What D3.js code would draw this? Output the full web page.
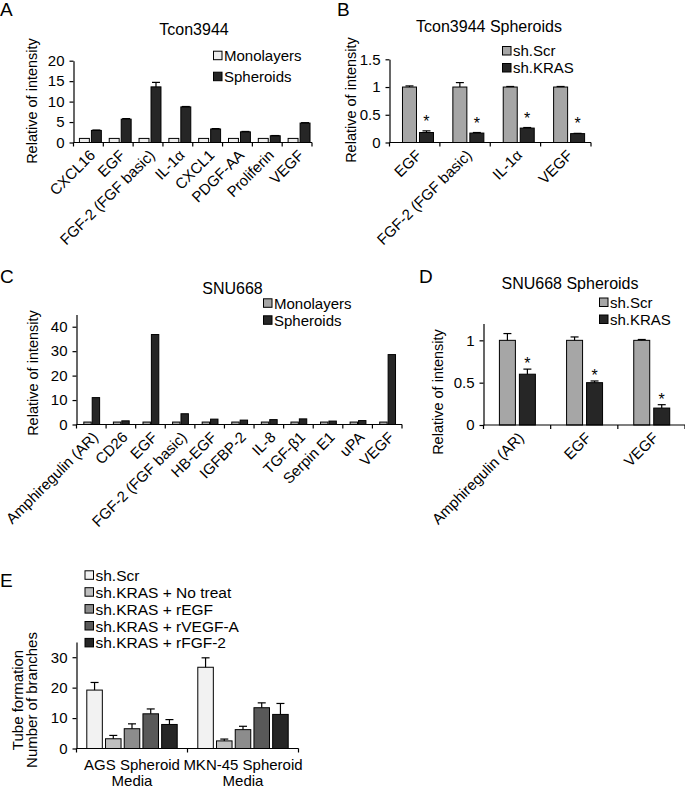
<!DOCTYPE html>
<html><head><meta charset="utf-8">
<script src="https://cdn.jsdelivr.net/npm/d3@7"></script>
<style>
body{margin:0;background:#fff}
text{font-family:"Liberation Sans",Arial,sans-serif;fill:#000}
</style>
</head><body>
<svg id="chart" width="685" height="790"></svg>
<script>
// ---------- DATA ----------
const aCategories = ["CXCL16","EGF","FGF-2 (FGF basic)","IL-1α","CXCL1","PDGF-AA","Proliferin","VEGF"];
const aSeries = ["Monolayers","Spheroids"];
const aMono = [1,1,1,1,1,1,1,1];
const aMonoErr = [0,0,0,0,0,0,0,0];
const aSph = [2.95,5.7,13.6,8.7,3.3,2.6,1.65,4.75];
const aSphErr = [0.1,0.15,1.1,0.1,0.1,0.1,0.05,0.1];
const aTicks = [0,5,10,15,20];

const bCategories = ["EGF","FGF-2 (FGF basic)","IL-1α","VEGF"];
const bSeries = ["sh.Scr","sh.KRAS"];
const bScr = [1,1,1,1];
const bScrErr = [0.02,0.08,0.01,0.01];
const bKras = [0.18,0.17,0.26,0.16];
const bKrasErr = [0.03,0.01,0.01,0.005];
const bTicks = [0,0.5,1,1.5];

const cCategories = ["Amphiregulin (AR)","CD26","EGF","FGF-2 (FGF basic)","HB-EGF","IGFBP-2","IL-8","TGF-β1","Serpin E1","uPA","VEGF"];
const cSeries = ["Monolayers","Spheroids"];
const cMono = [1,1,1,1,1,1,1,1,1,1,1];
const cSph = [11.0,1.5,36.8,4.4,2.2,1.8,2.0,2.3,1.4,1.6,28.6];
const cTicks = [0,10,20,30,40];

const dCategories = ["Amphiregulin (AR)","EGF","VEGF"];
const dSeries = ["sh.Scr","sh.KRAS"];
const dScr = [1,1,1];
const dScrErr = [0.08,0.04,0.01];
const dKras = [0.6,0.5,0.2];
const dKrasErr = [0.06,0.02,0.04];
const dTicks = [0,0.5,1];

const eCategories = ["AGS Spheroid|Media","MKN-45 Spheroid|Media"];
const eSeries = ["sh.Scr","sh.KRAS + No treat","sh.KRAS + rEGF","sh.KRAS + rVEGF-A","sh.KRAS + rFGF-2"];
const eAGS = [19.2,3.2,6.5,11.4,7.9];
const eAGSErr = [2.5,1.1,1.6,1.6,1.6];
const eMKN = [26.7,2.5,6.2,13.4,11.2];
const eMKNErr = [3.1,0.6,1.1,1.6,3.6];
const eTicks = [0,10,20,30];

// ---------- DRAW ----------
const svg = d3.select("#chart");
const FONT = 15;

function panel(cfg){
  const g = svg.append("g");
  const x = d3.scaleBand().domain(cfg.categories).range([cfg.x0, cfg.x1]).padding(0);
  const xs = d3.scaleBand().domain(cfg.series).range([0, x.bandwidth()])
    .paddingInner(cfg.pi).paddingOuter(cfg.po).align(cfg.align);
  const y = d3.scaleLinear().domain(cfg.domain).range([cfg.y0, cfg.yTop]);

  // bars
  cfg.series.forEach((s, si) => {
    cfg.categories.forEach((c, ci) => {
      const v = cfg.values[si][ci];
      const bx = x(c) + xs(s), bw = xs.bandwidth();
      g.append("rect").attr("x", bx).attr("y", y(v))
        .attr("width", bw).attr("height", y(0) - y(v))
        .attr("fill", cfg.colors[si]).attr("stroke", "#000").attr("stroke-width", 1);
      const e = cfg.errors ? cfg.errors[si][ci] : 0;
      const cx = bx + bw / 2;
      if (e > 0) {
        g.append("line").attr("x1", cx).attr("x2", cx).attr("y1", y(v)).attr("y2", y(v + e))
          .attr("stroke", "#000").attr("stroke-width", 1.2);
        g.append("line").attr("x1", cx - 4).attr("x2", cx + 4).attr("y1", y(v + e)).attr("y2", y(v + e))
          .attr("stroke", "#000").attr("stroke-width", 1.2);
      }
      if (cfg.stars && cfg.stars[si]) {
        g.append("text").attr("x", cx).attr("y", y(v + e) - cfg.starGap)
          .attr("text-anchor", "middle").attr("font-size", 16).text("*");
      }
    });
  });

  // y axis
  const ya = g.append("g").attr("transform", `translate(${cfg.x0},0)`)
    .call(d3.axisLeft(y).tickValues(cfg.ticks).tickSize(4).tickSizeOuter(0).tickPadding(5)
      .tickFormat(d3.format("~g")));
  ya.selectAll("path,line").attr("stroke", "#000").attr("stroke-width", 1.2);
  ya.selectAll("text").attr("font-size", cfg.tickFont || FONT)
    .attr("font-family", '"Liberation Sans",Arial,sans-serif');

  // x axis line + ticks at category boundaries
  g.append("line").attr("x1", cfg.x0).attr("x2", cfg.x1).attr("y1", y(0)).attr("y2", y(0))
    .attr("stroke", "#000").attr("stroke-width", 1.2);
  const bounds = cfg.categories.map(c => x(c)).concat([cfg.x1]);
  bounds.forEach(b => {
    g.append("line").attr("x1", b).attr("x2", b).attr("y1", y(0)).attr("y2", y(0) + 4)
      .attr("stroke", "#000").attr("stroke-width", 1.2);
  });

  // category labels
  cfg.categories.forEach(c => {
    const cx = x(c) + x.bandwidth() / 2;
    if (cfg.rotate) {
      g.append("text").attr("transform", `translate(${cx + cfg.lblDx},${y(0) + cfg.lblDy}) rotate(-45)`)
        .attr("text-anchor", "end").attr("dy", "0.35em").attr("font-size", FONT).text(c);
    } else {
      const lines = c.split("|");
      lines.forEach((ln, li) => {
        g.append("text").attr("x", cx).attr("y", cfg.lblY + li * cfg.lblLH)
          .attr("text-anchor", "middle").attr("font-size", FONT).text(ln);
      });
    }
  });

  // title
  if (cfg.title) {
    g.append("text").attr("x", cfg.titleX).attr("y", cfg.titleY).attr("text-anchor", "middle")
      .attr("font-size", 16).text(cfg.title);
  }
  // panel letter
  g.append("text").attr("x", cfg.letterX).attr("y", cfg.letterY).attr("font-size", 19).text(cfg.letter);

  // y label
  cfg.ylabel.forEach((t, i) => {
    g.append("text").attr("transform", `translate(${cfg.ylabelX + i * cfg.ylabelLH},${cfg.ylabelY}) rotate(-90)`)
      .attr("text-anchor", "middle").attr("font-size", cfg.ylabelFont || 14.5).text(t);
  });

  // legend
  cfg.series.forEach((s, si) => {
    const ly = cfg.legY + si * cfg.legLH;
    g.append("rect").attr("x", cfg.legX).attr("y", ly - 4.5).attr("width", 8.5).attr("height", 8.5)
      .attr("fill", cfg.colors[si]).attr("stroke", "#000").attr("stroke-width", 1);
    g.append("text").attr("x", cfg.legX + 10.5).attr("y", ly).attr("dy", "0.36em")
      .attr("font-size", cfg.legFont || FONT).text(s);
  });
}

// Panel A
panel({
  letter: "A", letterX: 0, letterY: 16,
  title: "Tcon3944", titleX: 194, titleY: 35,
  categories: aCategories, series: aSeries,
  values: [aMono, aSph], errors: [aMonoErr, aSphErr],
  colors: ["#ececec", "#262626"],
  x0: 73.5, x1: 312, y0: 142.5, yTop: 60.7, domain: [0, 20], ticks: aTicks,
  pi: 0.17, po: 0.33, align: 0.75,
  rotate: true, lblDx: 4, lblDy: 10,
  ylabel: ["Relative of intensity"], ylabelX: 37, ylabelY: 101, ylabelLH: 0,
  legX: 213.5, legY: 55.7, legLH: 21
});

// Panel B
panel({
  letter: "B", letterX: 337, letterY: 16,
  title: "Tcon3944 Spheroids", titleX: 489, titleY: 32,
  categories: bCategories, series: bSeries,
  values: [bScr, bKras], errors: [bScrErr, bKrasErr],
  colors: ["#a6a6a6", "#262626"], stars: [false, true], starGap: 4,
  x0: 389.5, x1: 591, y0: 142.5, yTop: 59.3, domain: [0, 1.5], ticks: bTicks,
  pi: 0.176, po: 0.57, align: 0.67,
  rotate: true, lblDx: 4, lblDy: 10,
  ylabel: ["Relative of intensity"], ylabelX: 356, ylabelY: 100, ylabelLH: 0,
  legX: 502.5, legY: 51, legLH: 17
});

// Panel C
panel({
  letter: "C", letterX: 0, letterY: 283,
  title: "SNU668", titleX: 232.5, titleY: 294,
  categories: cCategories, series: cSeries,
  values: [cMono, cSph], errors: null,
  colors: ["#a6a6a6", "#262626"],
  x0: 76.5, x1: 402, y0: 424.5, yTop: 314.5, domain: [0, 45], ticks: cTicks,
  pi: 0.12, po: 0.82, align: 0.53,
  rotate: true, lblDx: 4, lblDy: 10,
  ylabel: ["Relative of intensity"], ylabelX: 37.5, ylabelY: 373, ylabelLH: 0,
  legX: 263.5, legY: 303.3, legLH: 17
});

// Panel D
panel({
  letter: "D", letterX: 419, letterY: 283,
  title: "SNU668 Spheroids", titleX: 570, titleY: 289,
  categories: dCategories, series: dSeries,
  values: [dScr, dKras], errors: [dScrErr, dKrasErr],
  colors: ["#a6a6a6", "#262626"], stars: [false, true], starGap: 0,
  x0: 483.5, x1: 685, y0: 425, yTop: 323.4, domain: [0, 1.2], ticks: dTicks,
  pi: 0.2, po: 0.78, align: 0.51,
  rotate: true, lblDx: 4, lblDy: 10,
  ylabel: ["Relative of intensity"], ylabelX: 443, ylabelY: 392, ylabelLH: 0,
  legX: 599.5, legY: 302.5, legLH: 17
});

// Panel E
panel({
  letter: "E", letterX: 0, letterY: 587,
  title: null,
  categories: eCategories, series: eSeries,
  values: d3.range(eSeries.length).map(i => [eAGS[i], eMKN[i]]),
  errors: d3.range(eSeries.length).map(i => [eAGSErr[i], eMKNErr[i]]),
  colors: ["#f2f2f2", "#bfbfbf", "#8c8c8c", "#595959", "#262626"],
  x0: 76.5, x1: 298.5, y0: 748.5, yTop: 642, domain: [0, 35], ticks: eTicks,
  pi: 0.17, po: 0.55, align: 0.5,
  rotate: false, lblY: 769.5, lblLH: 16.8,
  ylabel: ["Tube formation", "Number of branches"], ylabelX: 23, ylabelY: 700, ylabelLH: 14,
  ylabelFont: 15,
  legX: 85, legY: 575.3, legLH: 16.9, legFont: 15.5
});
</script>
</body></html>
